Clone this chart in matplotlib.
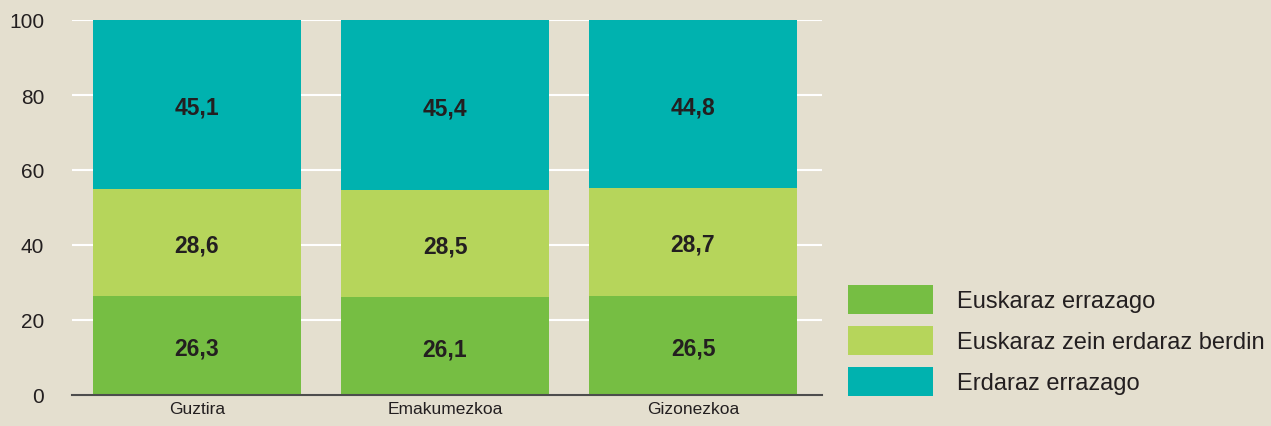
import matplotlib.pyplot as plt
from matplotlib.patches import Patch
import numpy as np

plt.rcParams['font.family'] = ['Liberation Sans', 'DejaVu Sans']

categories = ['Guztira', 'Emakumezkoa', 'Gizonezkoa']
series_names = ['Euskaraz errazago', 'Euskaraz zein erdaraz berdin', 'Erdaraz errazago']
euskaraz = [26.3, 26.1, 26.5]
berdin = [28.6, 28.5, 28.7]
erdaraz = [45.1, 45.4, 44.8]
colors = ['#76BE43', '#B6D55B', '#00B2AF']
bg = '#E4DFCF'

fig = plt.figure(figsize=(12.71, 4.27), dpi=100, facecolor=bg)
ax = fig.add_axes([72 / 1271, 31 / 427, 750 / 1271, 375 / 427], facecolor=bg)

x = np.arange(len(categories))
bottom = np.zeros(len(categories))
for vals, col in zip([euskaraz, berdin, erdaraz], colors):
    vals = np.array(vals)
    ax.bar(x, vals, width=0.84, bottom=bottom, color=col, zorder=2)
    for xi, b, v in zip(x, bottom, vals):
        ax.text(xi, b + v / 2, f'{v:.1f}'.replace('.', ','), ha='center', va='center_baseline',
                fontsize=16.5, fontweight='bold', color='#231F20', zorder=3)
    bottom += vals

ax.set_xlim(-0.504, 2.52)
ax.set_ylim(0, 100)
ax.set_yticks([0, 20, 40, 60, 80, 100])
ax.set_xticks(x)
ax.set_xticklabels(categories)
ax.grid(axis='y', color='white', linewidth=1.5, zorder=1)
ax.set_axisbelow(True)
for s in ['top', 'right', 'left']:
    ax.spines[s].set_visible(False)
ax.spines['bottom'].set_color('#4D4D4D')
ax.spines['bottom'].set_linewidth(1.5)
ax.spines['bottom'].set_zorder(4)
ax.tick_params(axis='y', length=0, pad=20, labelsize=15, labelcolor='#231F20')
ax.tick_params(axis='x', length=0, pad=4, labelsize=12.5, labelcolor='#231F20')

handles = [Patch(facecolor=c, edgecolor='none') for c in colors]
fig.legend(handles, series_names, loc='upper left', bbox_to_anchor=(848 / 1271, 1 - 286 / 427),
           frameon=False, fontsize=17, handlelength=3.6, handleheight=1.52,
           labelspacing=0.5, handletextpad=1.0, borderpad=0, borderaxespad=0,
           labelcolor='#231F20')

fig.savefig('out.png', dpi=100, facecolor=bg)
